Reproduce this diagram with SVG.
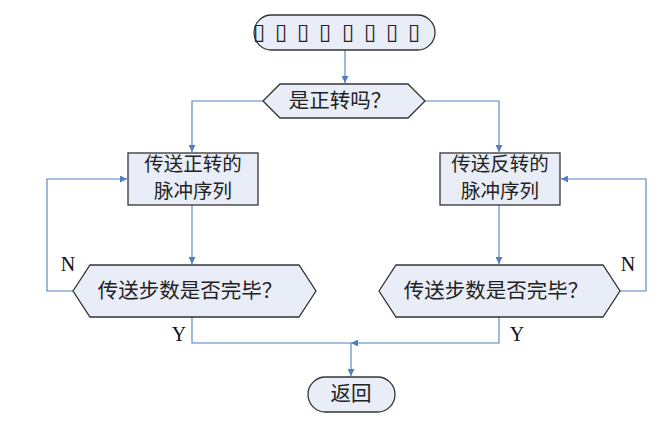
<svg xmlns="http://www.w3.org/2000/svg" width="666" height="426" viewBox="0 0 666 426">
<style>
.shape{fill:#e8edf7;stroke:#333;stroke-width:1.3}
.line{fill:none;stroke:#4f81bd;stroke-width:1.1}
.cjk{font-family:"Noto Sans CJK SC","Noto Sans",sans-serif;font-size:20.5px;fill:#222;text-anchor:middle}
.box{font-size:19.5px}
.lat{font-family:"Liberation Serif",serif;font-size:20px;fill:#111;text-anchor:middle}
.tofu{font-family:"DejaVu Sans",sans-serif;font-size:22px;fill:#222;text-anchor:middle}
</style>
<defs>
<marker id="arr" viewBox="0 0 10 10" refX="10" refY="5" markerWidth="7" markerHeight="7" markerUnits="userSpaceOnUse" orient="auto">
<path d="M0,0 L10,5 L0,10 z" fill="#4f81bd"/>
</marker>
</defs>
<rect width="666" height="426" fill="#fff"/>
<g id="connectors">
<path class="line" d="M345,50 V83" marker-end="url(#arr)"/>
<path class="line" d="M263,101 H192 V152" marker-end="url(#arr)"/>
<path class="line" d="M425,101 H499 V152" marker-end="url(#arr)"/>
<path class="line" d="M192,205 V264" marker-end="url(#arr)"/>
<path class="line" d="M499,205 V264" marker-end="url(#arr)"/>
<path class="line" d="M73,291 H47 V179 H127" marker-end="url(#arr)"/>
<path class="line" d="M620,291 H646 V179 H561" marker-end="url(#arr)"/>
<path class="line" d="M192,317 V343 H351"/>
<path class="line" d="M499,317 V343 H351" marker-end="url(#arr)"/>
<path class="line" d="M351,343 V376" marker-end="url(#arr)"/>
</g>
<g id="start">
<rect class="shape" x="254" y="15" width="181" height="35" rx="17.5"/>
<text class="tofu" y="39" x="259 281 303 325 348 370 392 414">▯▯▯▯▯▯▯▯</text>
</g>
<g id="dir">
<polygon class="shape" points="263,101 280,84 408,84 425,101 408,118 280,118"/>
<text class="cjk" x="340" y="108">是正转吗？</text>
</g>
<g id="fwd">
<rect class="shape" x="128" y="153" width="130" height="52"/>
<text class="cjk box" x="193" y="171">传送正转的</text>
<text class="cjk box" x="193" y="198">脉冲序列</text>
</g>
<g id="rev">
<rect class="shape" x="440" y="153" width="120" height="52"/>
<text class="cjk box" x="500" y="171">传送反转的</text>
<text class="cjk box" x="500" y="198">脉冲序列</text>
</g>
<g id="doneL">
<polygon class="shape" points="73,291 90,265 299,265 316,291 299,317 90,317"/>
<text class="cjk" x="190" y="298">传送步数是否完毕？</text>
</g>
<g id="doneR">
<polygon class="shape" points="379,291 396,265 603,265 620,291 603,317 396,317"/>
<text class="cjk" x="496" y="298">传送步数是否完毕？</text>
</g>
<g id="ret">
<rect class="shape" x="308" y="377" width="87" height="35" rx="17.5"/>
<text class="cjk" x="351" y="401">返回</text>
</g>
<g id="labels">
<text class="lat" x="68" y="271">N</text>
<text class="lat" x="628" y="271">N</text>
<text class="lat" x="179" y="341">Y</text>
<text class="lat" x="517" y="341">Y</text>
</g>
</svg>
